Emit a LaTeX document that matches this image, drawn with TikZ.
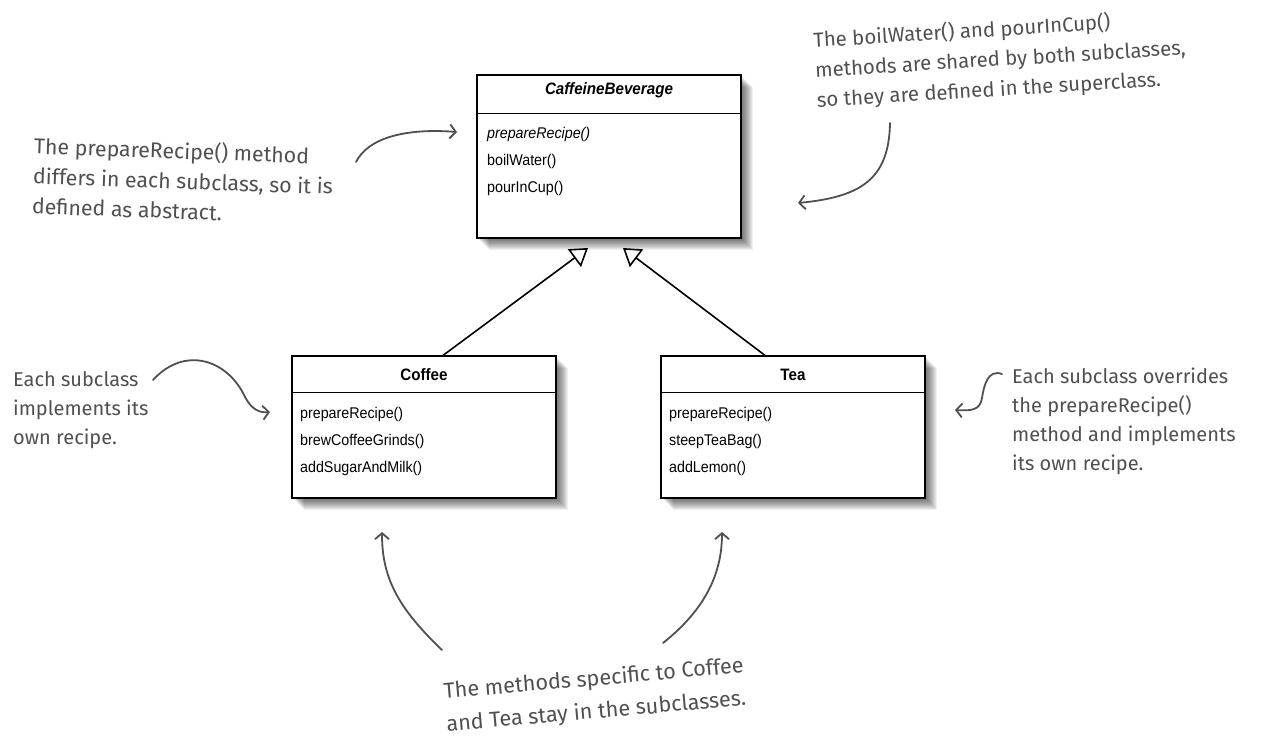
\documentclass[tikz,border=0pt]{standalone}
\usepackage{fontspec}
\usetikzlibrary{arrows.meta}
\newfontfamily\umlfont{Liberation Sans}[FakeStretch=0.92]
\newfontfamily\handfont{Fira Sans}
\definecolor{hand}{RGB}{80,80,80}
\newcommand\fakeshadow[4]{%
  \foreach \k in {1,...,12}{\fill[black,opacity=0.06] (#1+\k,#2+\k) rectangle (#3+\k,#4+\k);}}
\begin{document}
\begin{tikzpicture}[x=1pt,y=-1pt,
  umlbox/.style={draw=black, line width=1.2pt, fill=white, rectangle, minimum width=264pt, inner sep=0pt},
  umltitle/.style={font=\umlfont\bfseries\fontsize{16.5}{18}\selectfont, inner sep=0pt, anchor=base},
  umlitem/.style={font=\umlfont\fontsize{15.5}{18}\selectfont, inner sep=0pt, anchor=base west},
  divider/.style={line width=1pt},
  gen/.style={draw=black, line width=1.6pt, -{Triangle[open, length=17pt, width=22pt, line width=1.6pt]}},
  note/.style={text=hand, inner sep=0pt, align=left, anchor=west},
  handarrow/.style={draw=hand, line width=1.8pt, line cap=round, -{Straight Barb[length=6pt, width=14pt, line width=1.8pt]}}
]
\useasboundingbox (0,0) rectangle (1274,738);
\fill[white] (0,0) rectangle (1274,738);

% shadows
\fakeshadow{477}{75}{741}{238}
\fakeshadow{292}{356}{556}{498}
\fakeshadow{661}{356}{925}{498}

% CaffeineBeverage
\node[umlbox, minimum height=163pt] (cb) at (609,156.5) {};
\draw[divider] ([yshift=-39pt]cb.north west) -- ([yshift=-39pt]cb.north east);
\node[umltitle, font=\umlfont\bfseries\itshape\fontsize{16.5}{18}\selectfont] (cbt) at (609,95) {CaffeineBeverage};
\node[umlitem, font=\umlfont\itshape\fontsize{15.5}{18}\selectfont] (cb1) at (487,139) {prepareRecipe()};
\node[umlitem] (cb2) at (487,166) {boilWater()};
\node[umlitem] (cb3) at (487,193) {pourInCup()};

% Coffee
\node[umlbox, minimum height=142pt] (cof) at (424,427) {};
\draw[divider] ([yshift=-37pt]cof.north west) -- ([yshift=-37pt]cof.north east);
\node[umltitle] (coft) at (424,380) {Coffee};
\node[umlitem] (cof1) at (300,418) {prepareRecipe()};
\node[umlitem] (cof2) at (300,445) {brewCoffeeGrinds()};
\node[umlitem] (cof3) at (300,472) {addSugarAndMilk()};

% Tea
\node[umlbox, minimum height=142pt] (tea) at (793,427) {};
\draw[divider] ([yshift=-37pt]tea.north west) -- ([yshift=-37pt]tea.north east);
\node[umltitle] (teat) at (793,380) {Tea};
\node[umlitem] (tea1) at (669,418) {prepareRecipe()};
\node[umlitem] (tea2) at (669,445) {steepTeaBag()};
\node[umlitem] (tea3) at (669,472) {addLemon()};

% generalization
\coordinate (tip1) at (588,248);
\coordinate (tip2) at (623,248);
\draw[gen] ([xshift=19pt]cof.north) -- (tip1);
\draw[gen] ([xshift=-28pt]tea.north) -- (tip2);

% notes
\node[note, rotate=-2, font=\handfont\fontsize{21.3}{30}\selectfont] (n1) at (33,175)
  {The prepareRecipe() method\\differs in each subclass, so it is\\defined as abstract.};
\node[note, rotate=3.5, font=\handfont\fontsize{20.4}{30}\selectfont] (n2) at (815,71)
  {The boilWater() and pourInCup()\\methods are shared by both subclasses,\\so they are defined in the superclass.};
\node[note, font=\handfont\fontsize{20}{29}\selectfont] (n3) at (13,410)
  {Each subclass\\implements its\\own recipe.};
\node[note, font=\handfont\fontsize{20}{29}\selectfont] (n4) at (1012,421)
  {Each subclass overrides\\the prepareRecipe()\\method and implements\\its own recipe.};
\node[note, rotate=5, font=\handfont\fontsize{21.6}{33}\selectfont] (n5) at (445,709)
  {The methods specific to Coffee\\and Tea stay in the subclasses.};

% hand arrows
\coordinate (a1s) at (356,162); \coordinate (a1e) at (457,132);
\draw[handarrow] (a1s) .. controls (368,138) and (405,128) .. (a1e);
\coordinate (a2s) at (890,123); \coordinate (a2e) at (798,203);
\draw[handarrow] (a2s) .. controls (889,180) and (860,197) .. (a2e);
\coordinate (a3s) at (153,380); \coordinate (a3m) at (245,397); \coordinate (a3e) at (270,412);
\draw[handarrow] (a3s) .. controls (185,345) and (228,360) .. (a3m) .. controls (252,410) and (260,413) .. (a3e);
\coordinate (a4s) at (1002,374); \coordinate (a4m) at (982,398); \coordinate (a4e) at (955,410);
\draw[handarrow] (a4s) .. controls (988,369) and (984,385) .. (a4m) .. controls (980,410) and (972,411) .. (a4e);
\coordinate (a5s) at (442,650); \coordinate (a5e) at (382,532);
\draw[handarrow] (a5s) .. controls (397,607) and (382,577) .. (a5e);
\coordinate (a6s) at (663,643); \coordinate (a6e) at (722,532);
\draw[handarrow] (a6s) .. controls (702,612) and (722,577) .. (a6e);
\end{tikzpicture}
\end{document}
